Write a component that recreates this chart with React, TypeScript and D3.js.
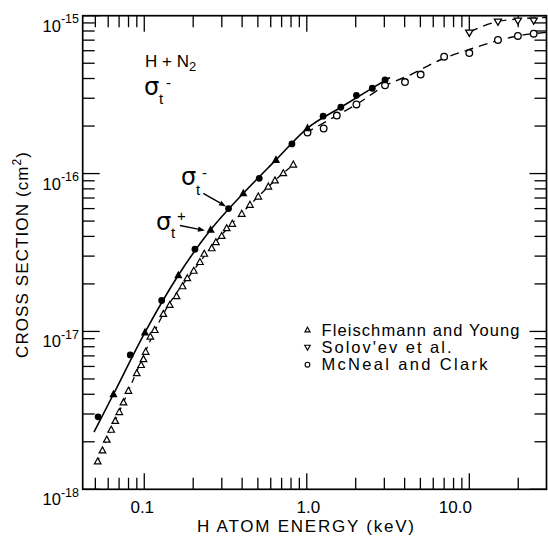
import React from "react";
import * as d3 from "d3";

const W = 548;
const H = 536;

// ---- Data (energy in keV, cross section in cm^2) ----
// sigma_t^- (filled circles)
const sigmaMinusE = [0.052, 0.082, 0.128, 0.205, 0.33, 0.51, 0.81, 1.26, 1.62, 2.02, 2.53, 3.03];
const sigmaMinusV = [2.88e-18, 7.1e-18, 1.57e-17, 3.32e-17, 6.0e-17, 9.33e-17, 1.54e-16, 2.31e-16, 2.63e-16, 3.13e-16, 3.47e-16, 3.92e-16];
// sigma_t^+ (filled triangles)
const sigmaPlusE = [0.0646, 0.101, 0.162, 0.256, 0.407, 0.646, 1.01];
const sigmaPlusV = [4.0e-18, 9.86e-18, 2.27e-17, 4.4e-17, 7.5e-17, 1.22e-16, 1.94e-16];
// Fleischmann and Young (open triangles)
const fyE = [0.0517, 0.0553, 0.0588, 0.0626, 0.0663, 0.0702, 0.0745, 0.0799, 0.0899, 0.0957, 0.0989, 0.102, 0.109, 0.116, 0.131, 0.1435, 0.158, 0.172, 0.184, 0.2016, 0.22, 0.234, 0.26, 0.276, 0.2995, 0.3215, 0.348, 0.398, 0.447, 0.503, 0.58, 0.637, 0.717, 0.826];
const fyV = [1.5e-18, 1.76e-18, 2.06e-18, 2.38e-18, 2.71e-18, 3.08e-18, 3.55e-18, 4.2e-18, 5.43e-18, 6.12e-18, 6.67e-18, 7.42e-18, 9.27e-18, 1.02e-17, 1.29e-17, 1.47e-17, 1.67e-17, 1.93e-17, 2.17e-17, 2.42e-17, 2.75e-17, 3.1e-17, 3.36e-17, 3.67e-17, 4.02e-17, 4.5e-17, 4.8e-17, 5.55e-17, 6.33e-17, 7.14e-17, 8.26e-17, 9.04e-17, 1.004e-16, 1.139e-16];
// McNeal and Clark (open circles)
const mcE = [1.01, 1.27, 1.53, 2.02, 3.03, 4.02, 5.02, 7.0, 10.0, 15.0, 19.9, 24.9];
const mcV = [1.82e-16, 1.93e-16, 2.33e-16, 2.74e-16, 3.62e-16, 3.8e-16, 4.24e-16, 5.5e-16, 5.8e-16, 7.02e-16, 7.44e-16, 7.69e-16];
// Solov'ev et al. (inverted triangles)
const solE = [10.0, 15.0, 19.9, 24.9];
const solV = [7.8e-16, 9.16e-16, 9.3e-16, 9.3e-16];

// Fitted curves
const solidFitE = [0.049, 0.0646, 0.101, 0.162, 0.256, 0.407, 0.646, 1.01, 1.62, 2.53, 3.25];
const solidFitV = [2.3e-18, 4.0e-18, 9.86e-18, 2.27e-17, 4.4e-17, 7.5e-17, 1.22e-16, 1.94e-16, 2.63e-16, 3.48e-16, 4.06e-16];
const fyFitE = [0.051, 0.0626, 0.0799, 0.1, 0.131, 0.2, 0.3, 0.447, 0.637, 0.826];
const fyFitV = [1.46e-18, 2.38e-18, 4.2e-18, 7.2e-18, 1.29e-17, 2.42e-17, 4.1e-17, 6.33e-17, 9.04e-17, 1.139e-16];
const mcFitE = [0.975, 1.54, 2.03, 3.03, 4.31, 6.61, 10.1, 14.96, 19.9, 29.9];
const mcFitV = [1.8e-16, 2.34e-16, 2.75e-16, 3.6e-16, 4.21e-16, 5.24e-16, 6.13e-16, 6.95e-16, 7.44e-16, 7.85e-16];
const solFitE = [10.0, 15.0, 19.9, 29.9];
const solFitV = [7.88e-16, 9.19e-16, 9.53e-16, 9.74e-16];

// Axis labels
const xTickValues = [0.1, 1, 10];
const xTickLabels = ["0.1", "1.0", "10.0"];
const yTickValues = [1e-18, 1e-17, 1e-16, 1e-15];
const yTickExps = ["-18", "-17", "-16", "-15"];
const legendLabels = ["Fleischmann and Young", "Solov'ev et al.", "McNeal and Clark"];

// Annotation arrows (data coordinates): [startE, startV, endE, endV]
const arrowMinus = [0.2307, 7.5e-17, 0.3185, 6.19e-17];
const arrowPlus = [0.166, 4.69e-17, 0.2362, 4.36e-17];

const FONT = "'Liberation Sans', Arial, Helvetica, sans-serif";
const xLabelDx = [-2, 1.5, -14];
const legendTextLen = [198, 130, 166];

const zip = (a: number[], b: number[]) => a.map((v, i) => [v, b[i]] as [number, number]);

export default function App() {
  const x = d3.scaleLog().domain([0.0418, 29.85]).range([82.7, 546.5]);
  const y = d3.scaleLog().domain([1e-18, 1e-15]).range([489.3, 15.7]);
  const [x0, x1] = x.range();
  const [y0, y1] = y.range(); // y0 bottom, y1 top

  const line = d3
    .line<[number, number]>()
    .x((d) => x(d[0]))
    .y((d) => y(d[1]))
    .curve(d3.curveMonotoneX);

  const isMajor = (t: number) => Math.abs(Math.log10(t) - Math.round(Math.log10(t))) < 1e-6;
  const xt = x.ticks();
  const yt = y.ticks();
  const MAJ = 16;
  const MIN = 11.5;

  const openTri = "M0,-3.6 L3.3,2.4 L-3.3,2.4 Z";
  const filledTri = "M0,-4.6 L4.1,3 L-4.1,3 Z";
  const invTri = "M0,3.6 L3.6,-2.6 L-3.6,-2.6 Z";

  const arrow = (a: number[], key: string) => {
    const sx = x(a[0]), sy = y(a[1]), ex = x(a[2]), ey = y(a[3]);
    const ang = Math.atan2(ey - sy, ex - sx);
    const L = 7, Wd = 2.6;
    const bx = ex - L * Math.cos(ang), by = ey - L * Math.sin(ang);
    const px = -Math.sin(ang) * Wd, py = Math.cos(ang) * Wd;
    return (
      <g key={key}>
        <line x1={sx} y1={sy} x2={bx} y2={by} stroke="#000" strokeWidth={1.4} />
        <path d={`M${ex},${ey} L${bx + px},${by + py} L${bx - px},${by - py} Z`} fill="#000" />
      </g>
    );
  };

  const legendX = x(1.01);
  const legendRows = [330, 347.3, 364.7];

  return (
    <svg
      width={W}
      height={H}
      viewBox={`0 0 ${W} ${H}`}
      style={{ position: "absolute", left: 0, top: 0, background: "#fff" }}
      fontFamily={FONT}
    >
      <defs>
        <clipPath id="plot">
          <rect x={x0} y={y1} width={x1 - x0} height={y0 - y1} />
        </clipPath>
      </defs>

      {/* ticks */}
      <g stroke="#000" strokeWidth={1.3}>
        {xt.map((t, i) => {
          const len = isMajor(t) ? MAJ : MIN;
          const px = x(t);
          return (
            <g key={"xt" + i}>
              <line x1={px} x2={px} y1={y0} y2={y0 - len} />
              <line x1={px} x2={px} y1={y1} y2={y1 + len} />
            </g>
          );
        })}
        {yt.map((t, i) => {
          const len = isMajor(t) ? MAJ + 1 : MIN + 0.5;
          const py = y(t);
          return (
            <g key={"yt" + i}>
              <line x1={x0} x2={x0 + len} y1={py} y2={py} />
              <line x1={x1} x2={x1 - len} y1={py} y2={py} />
            </g>
          );
        })}
      </g>

      {/* frame */}
      <rect x={x0} y={y1} width={x1 - x0} height={y0 - y1} fill="none" stroke="#000" strokeWidth={1.7} />

      {/* tick labels */}
      {xTickValues.map((v, i) => (
        <text key={"xl" + i} x={x(v) + xLabelDx[i]} y={513} fontSize={17} textAnchor="middle">
          {xTickLabels[i]}
        </text>
      ))}
      {yTickValues.map((v, i) => (
        <text key={"yl" + i} x={79} y={y(v) + 16} fontSize={16.5} textAnchor="end">
          10
          <tspan fontSize={12.5} dy={-8.5}>
            {yTickExps[i]}
          </tspan>
        </text>
      ))}

      {/* axis titles */}
      <text x={305.5} y={532} fontSize={17} textAnchor="middle" textLength={217} lengthAdjust="spacing">
        H ATOM ENERGY  (keV)
      </text>
      <text
        transform="translate(28,255) rotate(-90)"
        fontSize={17}
        textAnchor="middle"
        textLength={206}
        lengthAdjust="spacing"
      >
        CROSS SECTION  (cm
        <tspan fontSize={12} dy={-7}>
          2
        </tspan>
        <tspan dy={7}>)</tspan>
      </text>

      {/* curves */}
      <g clipPath="url(#plot)" fill="none" stroke="#000">
        <path d={line(zip(solidFitE, solidFitV)) || ""} strokeWidth={1.6} />
        <path d={line(zip(fyFitE, fyFitV)) || ""} strokeWidth={1.3} strokeDasharray="6,5" />
        <path d={line(zip(mcFitE, mcFitV)) || ""} strokeWidth={1.4} strokeDasharray="9,6" />
        <path d={line(zip(solFitE, solFitV)) || ""} strokeWidth={1.4} strokeDasharray="9,6" />
      </g>

      {/* markers */}
      <g>
        {fyE.map((e, i) => (
          <path key={"fy" + i} d={openTri} transform={`translate(${x(e)},${y(fyV[i])})`} fill="#fff" stroke="#000" strokeWidth={1.2} />
        ))}
        {mcE.map((e, i) => (
          <circle key={"mc" + i} cx={x(e)} cy={y(mcV[i])} r={3.3} fill="#fff" stroke="#000" strokeWidth={1.3} />
        ))}
        {solE.map((e, i) => (
          <path key={"so" + i} d={invTri} transform={`translate(${x(e)},${y(solV[i])})`} fill="#fff" stroke="#000" strokeWidth={1.3} />
        ))}
        {sigmaPlusE.map((e, i) => (
          <path key={"sp" + i} d={filledTri} transform={`translate(${x(e)},${y(sigmaPlusV[i])})`} fill="#000" />
        ))}
        {sigmaMinusE.map((e, i) => (
          <circle key={"sm" + i} cx={x(e)} cy={y(sigmaMinusV[i])} r={3.4} fill="#000" />
        ))}
      </g>

      {/* annotations */}
      {arrow(arrowMinus, "am")}
      {arrow(arrowPlus, "ap")}
      <text x={181} y={185} fontSize={24} fontFamily="'DejaVu Sans', sans-serif">σ</text>
      <text x={196} y={195} fontSize={15}>t</text>
      <text x={202} y={178} fontSize={15}>-</text>
      <text x={156} y={230} fontSize={24} fontFamily="'DejaVu Sans', sans-serif">σ</text>
      <text x={171} y={238} fontSize={15}>t</text>
      <text x={177} y={221} fontSize={15}>+</text>

      {/* top-left label */}
      <text x={145} y={67} fontSize={17}>
        H + N
        <tspan fontSize={13} dy={4}>
          2
        </tspan>
      </text>
      <text x={144} y={95} fontSize={24} fontFamily="'DejaVu Sans', sans-serif">σ</text>
      <text x={159} y={104} fontSize={15}>t</text>
      <text x={166} y={88} fontSize={15}>-</text>

      {/* legend */}
      <g>
        <path d="M0,-2.8 L2.6,1.9 L-2.6,1.9 Z" transform={`translate(${legendX},${legendRows[0]})`} fill="#fff" stroke="#000" strokeWidth={1.1} />
        <path d="M0,2.8 L2.8,-2 L-2.8,-2 Z" transform={`translate(${legendX},${legendRows[1]})`} fill="#fff" stroke="#000" strokeWidth={1.1} />
        <circle cx={legendX} cy={legendRows[2]} r={2.4} fill="#fff" stroke="#000" strokeWidth={1.1} />
        {legendLabels.map((l, i) => (
          <text
            key={"lg" + i}
            x={legendX + 14}
            y={legendRows[i] + 5.5}
            fontSize={16.5}
            textLength={legendTextLen[i]}
            lengthAdjust="spacing"
          >
            {l}
          </text>
        ))}
      </g>
    </svg>
  );
}
